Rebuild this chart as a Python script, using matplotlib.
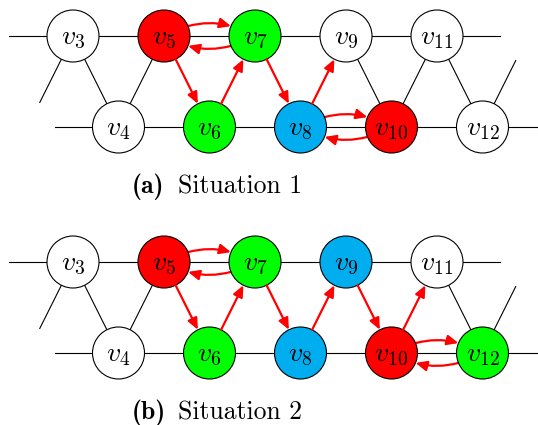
import matplotlib.pyplot as plt
from matplotlib.patches import Circle, FancyArrowPatch
import numpy as np

plt.rcParams['mathtext.fontset'] = 'cm'

# nodes v3..v12, odd ones on the upper row, even ones on the lower row
nodos = list(range(3, 13))

# fill colour of each node in both situations
colores_a = {5: 'red', 6: 'lime', 7: 'lime', 8: '#00AEEF', 10: 'red'}
colores_b = {5: 'red', 6: 'lime', 7: 'lime', 8: '#00AEEF', 9: '#00AEEF',
             10: 'red', 12: 'lime'}

# straight red arrows and bent (paired) red arrows
flechas_a = [(5, 6), (6, 7), (7, 8), (8, 9)]
curvas_a = [(5, 7), (7, 5), (8, 10), (10, 8)]
flechas_b = [(5, 6), (6, 7), (7, 8), (8, 9), (9, 10), (10, 11)]
curvas_b = [(5, 7), (7, 5), (10, 12), (12, 10)]

# black zig-zag edges between v_k and v_{k+1}
aristas_a = [(3, 4), (4, 5), (9, 10), (10, 11), (11, 12)]
aristas_b = [(3, 4), (4, 5), (11, 12)]

etiquetas = ['(a)', '(b)']
titulos = ['Situation 1', 'Situation 2']

R = 26          # node radius in px
DPI = 100
PT = DPI / 72   # px per point
ESTILO = '-|>,head_length=0.45,head_width=0.2'


def pos(k, y0):
    x = 73 + (k - 3) * 45.5
    y = y0 if k % 2 == 1 else y0 + 91
    return np.array([x, y])


def borde(p, q):
    u = (q - p) / np.linalg.norm(q - p)
    return p + R * u, q - R * u


def linea(ax, p, q):
    ax.plot([p[0], q[0]], [p[1], q[1]], color='black', lw=0.8, zorder=1)


def dibujar(ax, y0, colores, flechas, curvas, aristas, etiqueta, titulo):
    # horizontal rows
    linea(ax, np.array([9, y0]), np.array([500, y0]))
    linea(ax, np.array([55, y0 + 91]), np.array([545, y0 + 91]))

    for a, b in aristas:
        linea(ax, *borde(pos(a, y0), pos(b, y0)))

    # loose edges at both ends
    p3 = pos(3, y0)
    d = np.array([-45.5, 91])
    linea(ax, borde(p3, p3 + d)[0], p3 + 0.73 * d)
    p12 = pos(12, y0)
    d = np.array([45.5, -91])
    linea(ax, borde(p12, p12 + d)[0], p12 + 0.73 * d)

    for k in nodos:
        c = pos(k, y0)
        ax.add_patch(Circle(c, R, facecolor=colores.get(k, 'white'),
                            edgecolor='black', lw=0.8, zorder=3))
        ax.text(c[0], c[1] + 1, r'$v_{%d}$' % k, ha='center', va='center',
                fontsize=20, zorder=4)

    for a, b in flechas:
        p, q = borde(pos(a, y0), pos(b, y0))
        ax.add_patch(FancyArrowPatch(p, q, arrowstyle=ESTILO, mutation_scale=15,
                                     color='red', lw=1.6, shrinkA=0, shrinkB=0,
                                     zorder=5))

    for a, b in curvas:
        ax.add_patch(FancyArrowPatch(pos(a, y0), pos(b, y0), arrowstyle=ESTILO,
                                     connectionstyle='arc3,rad=-0.28',
                                     mutation_scale=15, color='red', lw=1.6,
                                     shrinkA=R / PT, shrinkB=R / PT, zorder=2))

    ax.text(132, y0 + 157, etiqueta, ha='left', va='baseline',
            fontsize=18.5, family='cmb10')
    ax.text(178, y0 + 157, titulo, ha='left', va='baseline',
            fontsize=18.5, family='cmr10')


fig = plt.figure(figsize=(5.38, 4.25), dpi=DPI)
ax = fig.add_axes([0, 0, 1, 1])
ax.set_xlim(0, 538)
ax.set_ylim(425, 0)
ax.set_aspect('equal')
ax.axis('off')

dibujar(ax, 36, colores_a, flechas_a, curvas_a, aristas_a, etiquetas[0], titulos[0])
dibujar(ax, 262, colores_b, flechas_b, curvas_b, aristas_b, etiquetas[1], titulos[1])

fig.savefig('out.png', dpi=DPI)
